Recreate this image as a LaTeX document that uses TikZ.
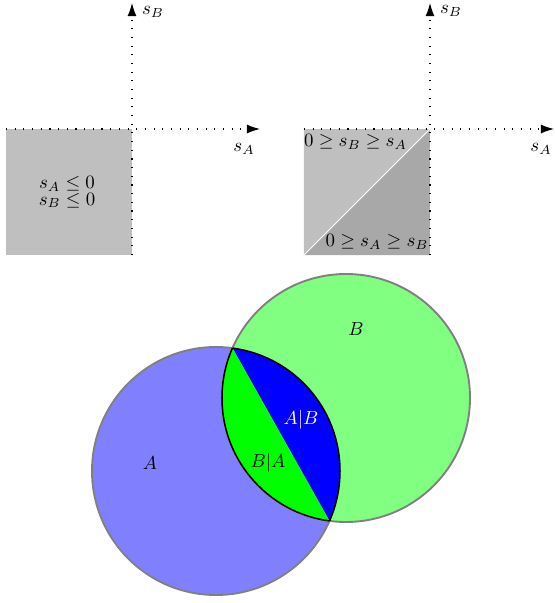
\documentclass[tikz,border=0pt]{standalone}
\definecolor{paleregion}{gray}{0.75}
\definecolor{darkregion}{gray}{0.66}
\definecolor{rimgray}{gray}{0.5}
\usepackage{tikz}
\usetikzlibrary{arrows.meta,calc,intersections}

\begin{document}
\begin{tikzpicture}[x=0.53pt,y=0.53pt,
  axis/.style={loosely dotted,line width=0.6pt,-{Latex[length=7pt,width=4.8pt]}},
  setA/.style={fill=blue!50,draw=rimgray,line width=1pt},
  setB/.style={fill=green!50,draw=rimgray,line width=1pt},
  rim/.style={draw=black,line width=0.8pt}]
  \useasboundingbox (0,0) rectangle (555,603);
  % left panel
  \coordinate (o1) at (132,474);
  \coordinate (l1) at (6,474);
  \coordinate (b1) at (132,348);
  \coordinate (x1) at (260,474);
  \coordinate (y1) at (132,600);
  \fill[paleregion] (6,348) rectangle (o1);
  \draw[axis] (l1) -- (x1);
  \draw[axis] (b1) -- (y1);
  \node (sb1) at (153,591) {$s_B$};
  \node (sa1) at (244,454) {$s_A$};
  \node[align=center] (cnd1) at (67,411) {$s_A\leq 0$\\[-3pt]$s_B\leq 0$};
  % right panel
  \coordinate (o2) at (430,474);
  \coordinate (l2) at (304,474);
  \coordinate (b2) at (430,348);
  \coordinate (c2) at (304,348);
  \coordinate (x2) at (554,474);
  \coordinate (y2) at (430,600);
  \fill[paleregion] (c2) -- (l2) -- (o2) -- cycle;
  \fill[darkregion] (c2) -- (b2) -- (o2) -- cycle;
  \draw[white,line width=0.5pt] (c2) -- (o2);
  \draw[axis] (l2) -- (x2);
  \draw[axis] (b2) -- (y2);
  \node (sb2) at (451,592) {$s_B$};
  \node (sa2) at (541,454) {$s_A$};
  \node (up2) at (355.5,461) {$0\geq s_B\geq s_A$};
  \node (lo2) at (377,361) {$0\geq s_A\geq s_B$};
  % sets
  \coordinate (cA) at (216,132);
  \coordinate (cB) at (346,205);
  \path[setA,name path=rimA] (cA) circle[radius=124];
  \path[setB,name path=rimB] (cB) circle[radius=124];
  \path[name intersections={of=rimA and rimB,by={p1,p2}}];
  \begin{scope}
    \clip (cA) circle[radius=124];
    \clip (cB) circle[radius=124];
    \fill[blue] (p1) -- (p2) -- ($(p2)+(130,73)$) -- ($(p1)+(130,73)$) -- cycle;
    \fill[green] (p1) -- (p2) -- ($(p2)-(130,73)$) -- ($(p1)-(130,73)$) -- cycle;
  \end{scope}
  \begin{scope}
    \clip (cA) circle[radius=124];
    \draw[rim] (cB) circle[radius=124];
  \end{scope}
  \begin{scope}
    \clip (cB) circle[radius=124];
    \draw[rim] (cA) circle[radius=124];
  \end{scope}
  \node (la) at (150,140) {$A$};
  \node (lb) at (356,274) {$B$};
  \node[white] (lab) at (301,183) {$A|B$};
  \node (lba) at (268,140) {$B|A$};
\end{tikzpicture}
\end{document}
